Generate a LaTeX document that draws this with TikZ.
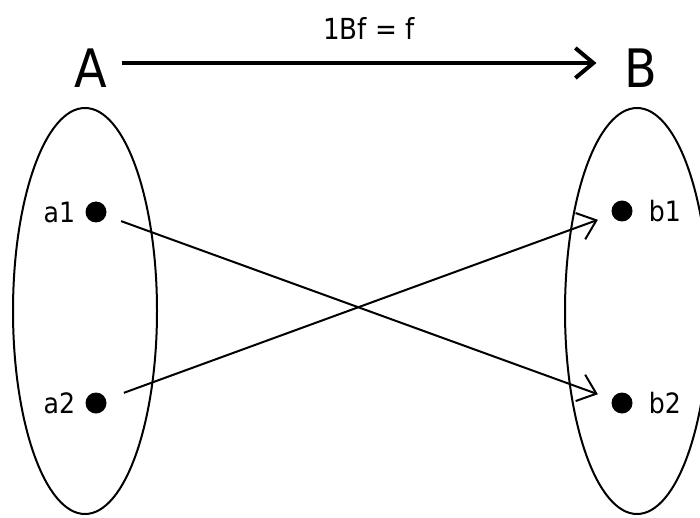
\documentclass[tikz,border=0pt]{standalone}
\usepackage{fontspec}
\setmainfont{DejaVu Sans Condensed}
\usetikzlibrary{shapes.geometric, arrows.meta, positioning}

\begin{document}
\begin{tikzpicture}[
    x=1pt, y=-1pt,
    setbox/.style={ellipse, draw, line width=2pt, minimum width=144pt, minimum height=406pt, inner sep=0pt},
    elem/.style={circle, fill=black, minimum size=21pt, inner sep=0pt},
    lbl/.style={inner sep=2pt, font=\fontsize{28}{32}\selectfont},
    big/.style={inner sep=2pt, font=\fontsize{53}{60}\selectfont},
    arr/.style={-{Straight Barb[length=17pt, width=28pt, line width=2pt]}, line width=2pt},
    toparr/.style={-{Straight Barb[length=18pt, width=30pt, line width=4pt]}, line width=4.5pt},
]
\clip (0,0) rectangle (700,518);

\node[setbox] (setA) at (85,311) {};
\node[setbox] (setB) at (637,311) {};

\node[big] (A) at (91,68) {A};
\node[big] (B) at (641,68) {B};

\node[elem] (a1) at (96,212) {};
\node[elem] (a2) at (96,403) {};
\node[elem] (b1) at (622,211) {};
\node[elem] (b2) at (622,403) {};

\node[lbl, left=8pt of a1] (a1t) {a1};
\node[lbl, left=8pt of a2] (a2t) {a2};
\node[lbl, right=14pt of b1] (b1t) {b1};
\node[lbl, right=14pt of b2] (b2t) {b2};

\draw[toparr, shorten <=12pt, shorten >=26pt] ([yshift=5pt]A.east) -- ([yshift=5pt]B.west)
    node[midway, above=18pt, xshift=3pt, font=\fontsize{29}{32}\selectfont] (lab) {1Bf = f};

\draw[arr, shorten <=16pt, shorten >=15pt] (a1) -- (b2);
\draw[arr, shorten <=19pt, shorten >=15pt] (a2) -- (b1);
\end{tikzpicture}
\end{document}
